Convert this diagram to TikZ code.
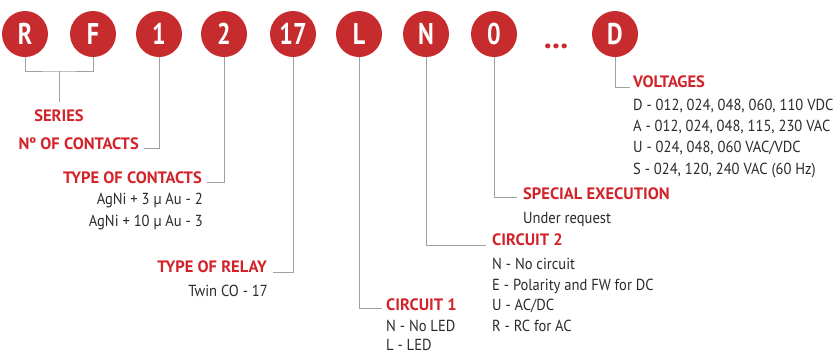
\documentclass[tikz,border=0pt]{standalone}
\usepackage{fontspec}
\setmainfont{PT Sans}[FakeStretch=0.91]
\newfontfamily\headfont{PT Sans}[FakeStretch=1.0]
\newfontfamily\ballfont{PT Sans}[FakeStretch=0.8]
\definecolor{ballred}{HTML}{C62B2E}
\definecolor{headred}{HTML}{D2232A}
\definecolor{bodygray}{HTML}{2A2A2A}
\definecolor{linegray}{HTML}{A0A0A0}
\tikzset{
  ball/.style={circle, fill=ballred, minimum size=46pt, inner sep=0pt, text=white,
    font=\ballfont\bfseries\fontsize{30}{30}\selectfont},
  head/.style={inner sep=0pt, text=headred, font=\headfont\bfseries\fontsize{16.5}{18}\selectfont},
  body/.style={inner sep=0pt, text=bodygray, font=\fontsize{16}{18}\selectfont},
  conn/.style={draw=linegray, line width=1pt}
}
\begin{document}
\begin{tikzpicture}[x=1pt,y=-1pt]
\useasboundingbox (0,0) rectangle (835,354);
% balls
\node[ball] (bR) at (25,34) {R};
\node[ball] (bF) at (93,34) {F};
\node[ball] (b1) at (159,34) {1};
\node[ball] (b2) at (224,34) {2};
\node[ball] (b17) at (293,34) {17};
\node[ball] (bL) at (359,34) {L};
\node[ball] (bN) at (426,34) {N};
\node[ball] (b0) at (494,34) {0};
\node[inner sep=0pt, anchor=base, text=ballred, font=\headfont\bfseries\fontsize{32}{32}\selectfont] (dots) at (556,48) {...};
\node[ball] (bD) at (615,34) {D};
% headings
\node[head, anchor=base] (series) at (59,121) {SERIES};
\node[head, anchor=base east] (ncont) at (139,149) {Nº OF CONTACTS};
\node[head, anchor=base east] (tcont) at (202,183) {TYPE OF CONTACTS};
\node[body, anchor=base east] (tc1) at (203,204) {AgNi + 3 μ Au - 2};
\node[body, anchor=base east] (tc2) at (203,226) {AgNi + 10 μ Au - 3};
\node[head, anchor=base east] (relay) at (267,272) {TYPE OF RELAY};
\node[body, anchor=base east] (rl1) at (268,296) {Twin CO - 17};
\node[head, anchor=base west] (circ1) at (386,310) {CIRCUIT 1};
\node[body, anchor=base west] (c1a) at (386,331) {N - No LED};
\node[body, anchor=base west] (c1b) at (386,350) {L - LED};
\node[head, anchor=base west] (circ2) at (492,245) {CIRCUIT 2};
\node[body, anchor=base west] (c2a) at (492,269.5) {N - No circuit};
\node[body, anchor=base west] (c2b) at (492,290.2) {E - Polarity and FW for DC};
\node[body, anchor=base west] (c2c) at (492,310.9) {U - AC/DC};
\node[body, anchor=base west] (c2d) at (492,331.6) {R - RC for AC};
\node[head, anchor=base west] (spec) at (523,199.3) {SPECIAL EXECUTION};
\node[body, anchor=base west] (sp1) at (523,223.3) {Under request};
\node[head, anchor=base west] (volt) at (633,87.3) {VOLTAGES};
\node[body, anchor=base west] (v1) at (633,110) {D - 012, 024, 048, 060, 110 VDC};
\node[body, anchor=base west] (v2) at (633,131.3) {A - 012, 024, 048, 115, 230 VAC};
\node[body, anchor=base west] (v3) at (633,152.6) {U - 024, 048, 060 VAC/VDC};
\node[body, anchor=base west] (v4) at (633,174) {S - 024, 120, 240 VAC (60 Hz)};
% connectors
\coordinate (rf) at (59,71);
\draw[conn] (bR.south) |- (rf) -| (bF.south);
\draw[conn, shorten >=7.5pt] (rf) -- (series.north);
\draw[conn] (b1.south) |- ([xshift=5pt,yshift=1pt]ncont.base east);
\draw[conn] (b2.south) |- ([xshift=5pt,yshift=1pt]tcont.base east);
\draw[conn] (b17.south) |- ([xshift=6pt]relay.base east);
\draw[conn] (bL.south) |- ([xshift=-4pt,yshift=2pt]circ1.base west);
\draw[conn] (bN.south) |- ([xshift=-6pt]circ2.base west);
\draw[conn] (b0.south) |- ([xshift=-6pt,yshift=2pt]spec.base west);
\draw[conn] (bD.south) |- ([xshift=-3pt]volt.base west);
\end{tikzpicture}
\end{document}
